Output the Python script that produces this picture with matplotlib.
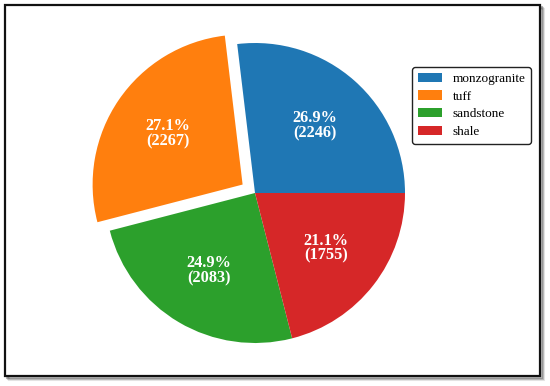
import matplotlib
matplotlib.use('Agg')
import matplotlib.pyplot as plt
from matplotlib.patches import Rectangle

# datos
rocas = ['monzogranite', 'tuff', 'sandstone', 'shale']
conteos = [2246, 2267, 2083, 1755]
porcentajes = ['26.9%', '27.1%', '24.9%', '21.1%']
colores = ['#1f77b4', '#ff7f0e', '#2ca02c', '#d62728']
separacion = [0, 0.1, 0, 0]

W, H = 550, 386
fig = plt.figure(figsize=(W / 100, H / 100), dpi=100)

# marco con sombra (detras de todo)
for i, a in enumerate([0.10, 0.18, 0.28]):
    d = 4 - i
    fig.patches.append(Rectangle(((4.5 + d) / W, (H - 375.5 - d) / H), 535 / W, 371 / H,
                                 transform=fig.transFigure, facecolor='none',
                                 edgecolor=(0, 0, 0, a), linewidth=1.5, zorder=-3))
fig.patches.append(Rectangle((4.5 / W, (H - 375.5) / H), 535 / W, 371 / H,
                             transform=fig.transFigure, facecolor='white',
                             edgecolor='#111111', linewidth=1.6, zorder=-2))

# eje del pastel: centro en (255,193), radio 150 px
ax = fig.add_axes([(255 - 180) / W, (H - 193 - 180) / H, 360 / W, 360 / H])
ax.set_zorder(1)
etiquetas = iter(f'{p}\n({c})' for p, c in zip(porcentajes, conteos))
wedges, _, autotexts = ax.pie(conteos, colors=colores, explode=separacion,
                              startangle=0, counterclock=True,
                              autopct=lambda pct: next(etiquetas), pctdistance=0.6,
                              textprops=dict(color='white', fontsize=11.8,
                                             fontweight='bold', family='Liberation Serif'))
for t in autotexts:
    t.set_linespacing(0.92)
ax.set_xlim(-1.2, 1.2)
ax.set_ylim(-1.2, 1.2)
ax.set_aspect('equal')

leg = fig.legend(wedges, rocas, loc='upper left',
                 bbox_to_anchor=(412 / W, 1 - 67 / H),
                 prop={'family': 'Liberation Serif', 'size': 9.5},
                 frameon=True, fancybox=True, edgecolor='#222222',
                 handlelength=1.85, handleheight=0.7, handletextpad=0.8,
                 labelspacing=0.42, borderpad=0.42, borderaxespad=0)
leg.get_frame().set_linewidth(1.0)
leg.get_frame().set_alpha(1)
leg.set_zorder(2)

fig.savefig('out.png', dpi=100)
